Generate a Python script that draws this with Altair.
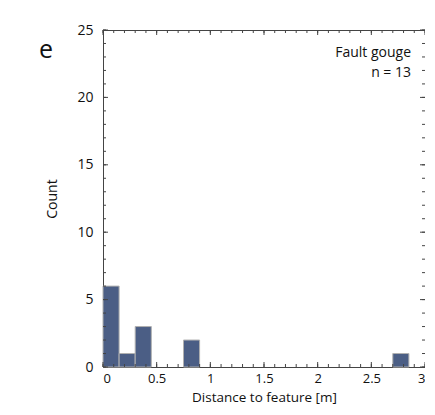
import altair as alt
import pandas as pd
import numpy as np

# Histogram data (bin width 0.15 m)
bin_start = [0.0, 0.15, 0.30, 0.75, 2.70]
bin_end = [0.15, 0.30, 0.45, 0.90, 2.85]
counts = [6, 1, 3, 2, 1]

x_major = [0, 0.5, 1, 1.5, 2, 2.5, 3]
x_minor = [round(v, 1) for v in np.arange(0, 3.01, 0.1)]
y_major = [0, 5, 10, 15, 20, 25]
y_minor = list(range(0, 26))

W, H = 322, 337
FONT = "Open Sans"
FRAME = "#444444"
FS = 14

bars_df = pd.DataFrame({"start": bin_start, "end": bin_end, "count": counts})

xs = alt.Scale(domain=[0, 3], nice=False, zero=False)
ys = alt.Scale(domain=[0, 25], nice=False)

X_AXIS = alt.Axis(values=x_major, title="Distance to feature [m]", ticks=False,
                  labelPadding=5, titlePadding=5, format="~g", grid=False, domain=False,
                  labelFontSize=13, titleFontSize=13.5)
Y_AXIS = alt.Axis(values=y_major, title="Count", ticks=False, labelPadding=10,
                  titlePadding=17, grid=False, domain=False)

bars = alt.Chart(bars_df).mark_rect(color="#4b5e85", stroke="#b0b0b0", strokeWidth=1).encode(
    x=alt.X("start:Q", scale=xs, axis=X_AXIS),
    x2="end:Q",
    y=alt.Y("count:Q", scale=ys, axis=Y_AXIS),
    y2=alt.datum(0),
)

xmaj = pd.DataFrame({"v": x_major})
xmin = pd.DataFrame({"v": x_minor})
ymaj = pd.DataFrame({"v": y_major})
ymin = pd.DataFrame({"v": y_minor})

def xticks(df, L):
    b = alt.Chart(df).mark_rule(color=FRAME, strokeWidth=1).encode(
        x=alt.X("v:Q", scale=xs, axis=X_AXIS), y=alt.value(H), y2=alt.value(H - L))
    t = alt.Chart(df).mark_rule(color=FRAME, strokeWidth=1).encode(
        x=alt.X("v:Q", scale=xs, axis=X_AXIS), y=alt.value(0), y2=alt.value(L))
    return b + t

def yticks(df, L):
    l = alt.Chart(df).mark_rule(color=FRAME, strokeWidth=1).encode(
        y=alt.Y("v:Q", scale=ys, axis=Y_AXIS), x=alt.value(0), x2=alt.value(L))
    r = alt.Chart(df).mark_rule(color=FRAME, strokeWidth=1).encode(
        y=alt.Y("v:Q", scale=ys, axis=Y_AXIS), x=alt.value(W), x2=alt.value(W - L))
    return l + r

label_df = pd.DataFrame({"t": ["Fault gouge", "n = 13"], "yy": [23, 43]})
labels = alt.Chart(label_df).mark_text(align="right", baseline="middle", font=FONT,
                                        fontSize=FS, color="#111").encode(
    x=alt.value(W - 14), y=alt.Y("yy:Q", scale=None), text="t:N")

panel = alt.Chart(pd.DataFrame({"t": ["e"]})).mark_text(
    align="left", baseline="alphabetic", font=FONT, fontSize=25, color="#111").encode(
    x=alt.value(-64), y=alt.value(28), text="t:N")

chart = alt.layer(
    bars,
    xticks(xmin, 3), xticks(xmaj, 5),
    yticks(ymin, 3), yticks(ymaj, 5),
    labels, panel,
).properties(
    width=W, height=H,
    autosize=alt.AutoSizeParams(type="none"),
    padding={"left": 95, "top": 22, "right": 0, "bottom": 40},
).configure_view(
    stroke=FRAME, strokeWidth=1
).configure_axis(
    labelFont=FONT, titleFont=FONT, labelFontSize=FS, titleFontSize=FS,
    labelColor="#111", titleColor="#111", titleFontWeight="normal",
)

chart.save("out.html", embed_options={"renderer": "svg", "actions": False})
